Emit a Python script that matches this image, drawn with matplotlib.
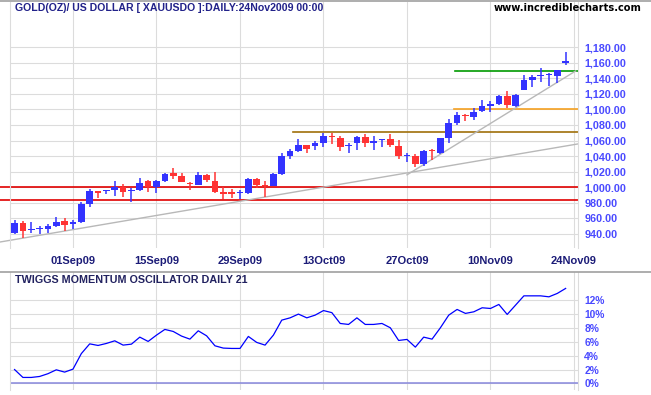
import numpy as np
import matplotlib.pyplot as plt
from matplotlib.lines import Line2D

# daily bars, 21 Aug 2009 .. 23 Nov 2009
opens = [941.6, 954.0, 944.8, 945.8, 946.8, 950.3, 956.7, 953.2, 955.8, 978.9,
         995.6, 995.2, 996.5, 1000.0, 995.2, 996.5, 1008.1, 1000.0, 1008.5, 1018.8,
         1014.5, 1005.0, 1003.0, 1015.8, 1008.1, 994.3, 994.3, 992.5, 993.0, 1010.3,
         1002.5, 1002.0, 1017.1, 1040.6, 1046.7, 1054.4, 1053.1, 1057.3, 1065.5, 1063.0,
         1053.0, 1056.6, 1064.3, 1056.6, 1060.2, 1061.7, 1053.1, 1039.9, 1040.2, 1029.9,
         1047.0, 1044.5, 1063.8, 1083.0, 1093.0, 1090.4, 1098.2, 1104.5, 1107.0, 1117.4,
         1105.0, 1125.0, 1138.3, 1142.8, 1144.5, 1143.2, 1159.4]
highs = [958.0, 957.0, 955.4, 950.3, 952.4, 961.8, 960.5, 958.0, 981.1, 997.4,
         995.6, 996.5, 1008.0, 1004.2, 998.7, 1011.6, 1009.4, 1009.4, 1018.8, 1024.4,
         1018.0, 1007.2, 1019.7, 1017.1, 1019.7, 1000.0, 997.4, 996.5, 1011.6, 1011.6,
         1008.0, 1018.8, 1044.5, 1048.8, 1062.1, 1054.4, 1059.9, 1069.4, 1070.2, 1065.9,
         1057.0, 1066.0, 1068.5, 1066.0, 1061.7, 1068.5, 1060.8, 1043.7, 1042.8, 1047.9,
         1048.8, 1063.0, 1087.4, 1097.2, 1094.2, 1102.2, 1112.2, 1111.0, 1118.6, 1124.2,
         1119.3, 1144.7, 1144.3, 1153.0, 1146.5, 1151.2, 1174.3]
lows = [940.0, 934.5, 941.6, 940.4, 941.3, 949.4, 943.8, 946.4, 954.5, 975.1,
        986.6, 991.8, 989.2, 988.0, 981.5, 995.2, 994.3, 993.1, 1007.2, 1010.7,
        1007.2, 996.5, 1003.0, 1007.2, 992.3, 984.6, 985.9, 984.6, 991.4, 998.7,
        987.1, 1002.0, 1015.8, 1036.8, 1045.4, 1044.1, 1047.9, 1051.4, 1055.7, 1047.1,
        1043.7, 1047.9, 1052.2, 1047.9, 1052.2, 1052.2, 1036.4, 1032.9, 1026.5, 1027.8,
        1035.1, 1042.8, 1056.6, 1080.0, 1085.3, 1085.8, 1097.2, 1097.2, 1105.8, 1102.0,
        1102.5, 1124.6, 1128.2, 1135.7, 1130.3, 1133.7, 1156.8]
closes = [953.7, 944.0, 945.5, 946.3, 950.6, 955.8, 951.5, 955.8, 978.9, 995.2,
          993.1, 995.8, 1000.0, 994.0, 995.8, 1005.1, 1000.0, 1008.1, 1017.1, 1014.5,
          1007.2, 1004.0, 1015.8, 1009.4, 994.3, 991.8, 991.8, 993.5, 1010.3, 1003.0,
          1002.0, 1017.1, 1040.2, 1046.7, 1054.4, 1049.6, 1056.9, 1065.9, 1065.0, 1052.2,
          1053.6, 1064.3, 1056.6, 1059.5, 1060.8, 1054.4, 1040.2, 1040.5, 1029.9, 1046.7,
          1046.5, 1063.0, 1083.0, 1093.0, 1091.0, 1097.2, 1104.5, 1107.5, 1117.4, 1105.8,
          1118.6, 1137.9, 1142.2, 1143.3, 1145.0, 1150.8, 1162.3]

# twiggs momentum oscillator (%)
momentum = [2.0, 0.86, 0.86, 1.0, 1.4, 1.96, 1.63, 2.06, 4.3, 5.7,
            5.47, 5.76, 6.14, 5.52, 5.66, 6.67, 6.05, 6.96, 7.78, 7.49,
            6.82, 6.38, 7.58, 6.86, 5.42, 5.09, 5.04, 5.04, 6.77, 5.91,
            5.52, 6.96, 9.12, 9.45, 9.99, 9.45, 9.84, 10.5, 10.2, 8.64,
            8.5, 9.45, 8.5, 8.5, 8.64, 8.02, 6.19, 6.34, 5.23, 6.67,
            6.38, 8.02, 9.84, 10.66, 10.09, 10.32, 10.9, 10.8, 11.38, 9.94,
            11.28, 12.62, 12.62, 12.62, 12.48, 12.97, 13.69]

date_pos = [7, 17, 27, 37, 47, 57, 67]
date_labels = ['01Sep09', '15Sep09', '29Sep09', '13Oct09', '27Oct09', '10Nov09', '24Nov09']

# horizontal levels: (price, first bar, colour)
levels = [(1000, -1.74, '#e00000'), (984, -1.74, '#e00000'),
          (1071, 33.4, '#a0700a'), (1100, 52.6, '#f5a020'), (1150, 52.7, '#009a00')]
# trendlines: (x0, y0, x1, y1)
trends = [(-1.74, 929.7, 67.48, 1055.7), (47.0, 1016.0, 67.2, 1149.4)]

W, H = 651, 395
plt.rcParams['font.family'] = ['Liberation Sans', 'DejaVu Sans']
fig = plt.figure(figsize=(W / 100, H / 100), dpi=100)
ax = fig.add_axes([10 / W, (H - 248) / H, 568 / W, 246 / H])
ax2 = fig.add_axes([10 / W, (H - 390) / H, 568 / W, (390 - 271.7) / H])

blue = '#3333ff'
red = '#ff3333'
grid_c = '#dcdcdc'
lab_c = '#4a4aff'
navy = '#1c1c78'

o = np.array(opens)
c = np.array(closes)
idx = np.arange(len(o))
cols = [blue if cc >= oo else red for oo, cc in zip(o, c)]
bottoms = np.minimum(o, c)
heights = np.maximum(np.abs(c - o), 1.4)

for price, x0, col in levels:
    ax.plot([x0, 67.48], [price, price], color=col, lw=1.2, clip_on=False, zorder=2)
for x0, y0, x1, y1 in trends:
    ax.plot([x0, x1], [y0, y1], color='#b8b8b8', lw=1.0, clip_on=False, zorder=2)

ax.vlines(idx, lows, highs, colors=cols, lw=1.1, zorder=3)
ax.bar(idx, heights, bottom=bottoms, width=0.8, color=cols, linewidth=0, zorder=3)

for a in (ax, ax2):
    a.set_xlim(-0.545, 67.48)
    a.set_xticks(date_pos)
    a.grid(True, color=grid_c, lw=0.8, zorder=0)
    a.set_axisbelow(True)
    a.tick_params(length=0, labelleft=False, labelright=True, pad=4.5)
    for s in ('top', 'bottom'):
        a.spines[s].set_visible(False)
    for s in ('left', 'right'):
        a.spines[s].set_color(grid_c)
        a.spines[s].set_linewidth(0.8)

ax.set_ylim(922, 1238)
ax.set_yticks(np.arange(940, 1181, 20))
ax.set_yticklabels([f'{v:,.2f}' for v in np.arange(940, 1181, 20)],
                   color=lab_c, fontsize=7.8, fontweight='bold')
ax.set_xticklabels(date_labels, color=navy, fontsize=8, fontweight='bold')
ax.tick_params(axis='x', pad=6)

ax2.plot(idx, momentum, color='#0000ff', lw=0.9, zorder=3)
ax2.axhline(0, color='#8888dd', lw=1.1, zorder=2)
ax2.set_ylim(-0.95, 16.1)
ax2.set_yticks(range(0, 13, 2))
ax2.set_yticklabels([f'{v}%' for v in range(0, 13, 2)],
                    color=lab_c, fontsize=7.4, fontweight='bold')
ax2.set_xticklabels([])

fig.add_artist(Line2D([0, 1], [1 - 1.2 / H, 1 - 1.2 / H], color='#a0a0a0', lw=1.2))
fig.add_artist(Line2D([0, 1], [1 - 271.5 / H, 1 - 271.5 / H], color='#a0a0a0', lw=1.2))

fig.text(15 / W, 1 - 8 / H, 'GOLD(OZ)/ US DOLLAR [ XAUUSDO ]:DAILY:24Nov2009 00:00',
         color='#22228a', fontsize=7.6, fontweight='bold', va='center')
fig.text(642 / W, 1 - 8 / H, 'www.incrediblecharts.com', family='DejaVu Sans',
         color='black', fontsize=7.1, fontweight='bold', va='center', ha='right')
fig.text(15 / W, 1 - 280 / H, 'TWIGGS MOMENTUM OSCILLATOR DAILY 21',
         color='#222260', fontsize=7.75, fontweight='bold', va='center')

fig.savefig('out.png', dpi=100)
